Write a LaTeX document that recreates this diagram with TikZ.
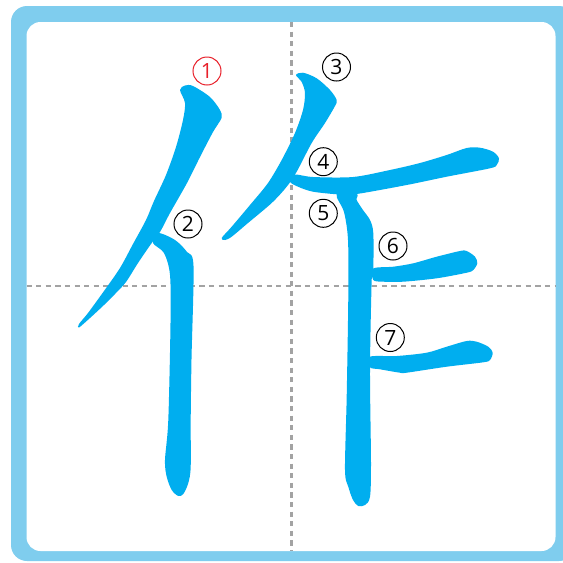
\documentclass[tikz,border=0pt]{standalone}
\usepackage{fontspec}
\setmainfont{Open Sans}
\definecolor{strokeblue}{HTML}{00AEEF}
\definecolor{framebl}{HTML}{7FCDEE}
\definecolor{gridgray}{HTML}{A3A3A3}
\definecolor{numred}{HTML}{E8202A}
\begin{document}
\begin{tikzpicture}[x=0.5pt,y=-0.5pt,
  stk/.style={fill=strokeblue},
  num/.style={circle,draw,line width=0.5pt,minimum size=14pt,inner sep=0pt,font=\fontsize{10.5}{10.5}\selectfont},
  grid/.style={gridgray,line width=1.4pt,dash pattern=on 2.6pt off 2.2pt}]
\useasboundingbox (0,0) rectangle (563,563);
\clip (0,0) rectangle (563,563);
\fill[white] (0,0) rectangle (563,563);
\fill[framebl,rounded corners=8] (11,6) rectangle (575,561);
\fill[white,rounded corners=7] (26.5,22) rectangle (555.5,551);
\draw[grid] (291.5,22) -- (291.5,551);
\draw[grid] (26.5,286) -- (555.5,286);
% stroke 1
\fill[stk] plot[smooth cycle,tension=0.5] coordinates {(180,90) (185,85.5) (193,86) (210,97) (220,110) (221.5,118) (213,132) (200,157) (187,183) (170,213) (160,232) (151,244) (138,263) (126,282) (115,294) (104,305) (90,318) (79,327.5) (79,324) (88,313) (104,291) (120,268) (133,244) (146,220) (154,201) (166,175) (176,147) (183,120) (185,103)};
% stroke 2
\fill[stk] plot[smooth cycle,tension=0.5] coordinates {(158,233) (175,240) (187,252) (193.5,266) (191.5,359) (190.7,420) (190.7,466.7) (188.3,483) (183.3,494) (178.3,496) (171.7,490) (166.7,476.7) (165,460) (168.3,420) (170.5,323) (170,275) (164,253) (153,243)};
% stroke 3
\fill[stk] plot[smooth cycle,tension=0.5] coordinates {(296,75) (303,72.7) (316.7,78.3) (330,90) (336.7,100) (335,106) (325,123) (311.7,143) (296.7,171.7) (286.7,186.7) (271.7,203) (248,223) (231.7,236.7) (225,240) (221.7,238) (231.7,226.7) (251.7,203) (268,183) (281.7,160) (295,133) (303,110) (305,93) (301.7,82)};
% stroke 4
\fill[stk] plot[smooth cycle,tension=0.5] coordinates {(294,174.5) (313,177) (353,177) (390,170) (420,163) (446.7,155) (466.7,148) (480,147.7) (493,151.7) (499,158.3) (496.7,165) (490,168.3) (446.7,176.7) (406.7,185) (356.7,194) (340,194.5) (313,191.7) (298,186.7) (290,181.7)};
% stroke 5
\fill[stk] plot[smooth cycle,tension=0.5] coordinates {(336.7,194.5) (356.7,194) (356.7,200) (363,210) (370,220) (373.3,233) (373.3,268.3) (371.7,280) (370,370) (371,463) (370,496.7) (365,505) (358.3,506) (353,500) (348.3,486.7) (345,470) (346.7,396.7) (348.3,296.7) (348,240) (344,212)};
% stroke 6
\fill[stk] plot[smooth cycle,tension=0.5] coordinates {(373.3,268.5) (393.3,266.7) (413.3,263.3) (436.7,256.7) (460,251) (466.7,251) (475,256.7) (477.3,263.3) (473.3,270) (466.7,272.7) (436.7,278.3) (403.3,281.7) (383.3,281.7) (373.3,280)};
% stroke 7
\fill[stk] plot[smooth cycle,tension=0.5] coordinates {(370,356.7) (396.7,356) (426.7,352.7) (446.7,346.7) (466.7,341) (476.7,341.7) (488.3,346.7) (492.7,352.7) (490,360) (483.3,362.3) (446.7,366.7) (406.7,372.7) (400,372.7) (380,369.3) (370,367.3)};
% numbers
\node[num,draw=numred,text=numred] (n1) at (207,71) {1};
\node[num] (n2) at (188,224) {2};
\node[num] (n3) at (336.5,67) {3};
\node[num] (n4) at (323.3,161.7) {4};
\node[num] (n5) at (323.3,213.3) {5};
\node[num] (n6) at (393,246) {6};
\node[num] (n7) at (390.3,337.5) {7};
\end{tikzpicture}
\end{document}
